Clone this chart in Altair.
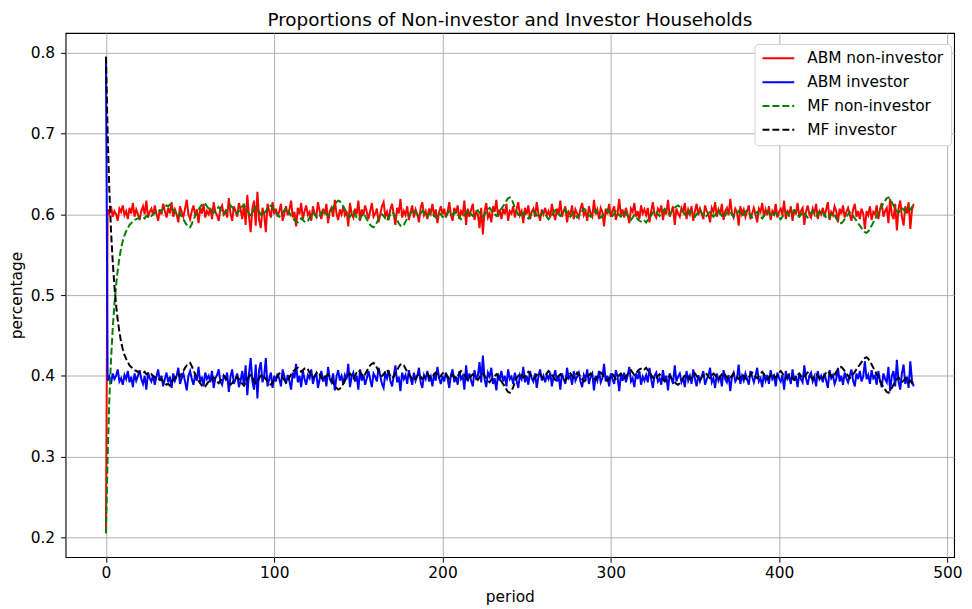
import altair as alt
import pandas as pd

# x values (period index)
periods = list(range(481))

# Values, in thousandths (0.604 -> 604)
abm_non_investor = [
    205,
    606, 601, 610, 597, 604, 600, 592, 607, 603, 611, 599, 604, 594, 608, 601, 614, 597, 606, 600, 593,
    604, 610, 600, 617, 596, 603, 607, 599, 611, 601, 592, 606, 600, 613, 604, 596, 608, 601, 615, 597,
    606, 600, 590, 610, 603, 597, 607, 618, 600, 594, 604, 611, 599, 606, 589, 608, 601, 613, 596, 604,
    600, 608, 594, 615, 603, 599, 592, 607, 611, 600, 604, 596, 620, 601, 592, 610, 604, 597, 614, 606,
    594, 613, 587, 624, 597, 578, 607, 617, 586, 628, 593, 583, 608, 600, 578, 613, 604, 596, 615, 600,
    607, 597, 604, 613, 592, 601, 610, 599, 606, 617, 596, 603, 585, 608, 600, 614, 594, 604, 611, 599,
    603, 592, 610, 601, 597, 615, 604, 594, 607, 600, 613, 589, 604, 608, 597, 618, 601, 593, 606, 600,
    610, 599, 604, 585, 614, 601, 596, 607, 600, 617, 592, 606, 599, 611, 603, 594, 604, 614, 597, 601,
    607, 590, 600, 610, 615, 597, 603, 593, 606, 613, 600, 587, 608, 601, 619, 596, 604, 599, 610, 593,
    603, 611, 596, 606, 600, 590, 608, 615, 599, 604, 594, 607, 601, 613, 597, 606, 589, 603, 610, 600,
    607, 596, 603, 615, 599, 592, 608, 601, 611, 594, 604, 600, 617, 587, 607, 597, 606, 613, 593, 603,
    600, 583, 608, 575, 604, 614, 596, 601, 590, 610, 603, 618, 597, 606, 594, 607, 600, 613, 592, 604,
    601, 610, 596, 606, 615, 599, 604, 589, 608, 600, 611, 594, 603, 607, 597, 615, 601, 592, 606, 600,
    608, 599, 604, 596, 613, 601, 593, 607, 600, 617, 597, 604, 610, 590, 603, 600, 611, 594, 606, 601,
    596, 607, 614, 599, 604, 592, 610, 601, 597, 618, 600, 606, 594, 608, 603, 585, 607, 600, 613, 597,
    604, 610, 593, 601, 619, 599, 606, 596, 608, 600, 589, 607, 603, 614, 597, 604, 594, 611, 601, 606,
    599, 608, 590, 604, 615, 600, 596, 607, 603, 611, 593, 606, 600, 618, 597, 603, 610, 587, 607, 601,
    597, 608, 603, 614, 594, 606, 600, 610, 592, 604, 613, 599, 607, 601, 594, 611, 604, 600, 590, 608,
    603, 615, 597, 606, 600, 613, 593, 604, 608, 599, 619, 601, 596, 607, 603, 586, 610, 600, 606, 597,
    604, 611, 594, 601, 608, 600, 590, 607, 603, 614, 597, 606, 599, 610, 593, 604, 600, 613, 596, 603,
    607, 599, 617, 594, 604, 601, 610, 592, 606, 600, 614, 597, 604, 608, 587, 603, 611, 600, 596, 607,
    601, 613, 594, 604, 600, 608, 597, 606, 615, 593, 603, 599, 610, 604, 590, 607, 600, 611, 596, 603,
    608, 600, 592, 606, 613, 597, 604, 594, 607, 601, 582, 604, 599, 610, 593, 603, 600, 611, 594, 606,
    614, 597, 604, 608, 589, 619, 600, 594, 613, 580, 607, 617, 597, 586, 610, 601, 615, 582, 606, 613,
]

abm_investor = [
    795,
    394, 399, 390, 403, 396, 400, 408, 393, 397, 389, 401, 396, 406, 392, 399, 386, 403, 394, 400, 407,
    396, 390, 400, 383, 404, 397, 393, 401, 389, 399, 408, 394, 400, 387, 396, 404, 392, 399, 385, 403,
    394, 400, 410, 390, 397, 403, 393, 382, 400, 406, 396, 389, 401, 394, 411, 392, 399, 387, 404, 396,
    400, 392, 406, 385, 397, 401, 408, 393, 389, 400, 396, 404, 380, 399, 408, 390, 396, 403, 386, 394,
    406, 387, 413, 376, 403, 422, 393, 383, 414, 372, 407, 417, 392, 400, 422, 387, 396, 404, 385, 400,
    393, 403, 396, 387, 408, 399, 390, 401, 394, 383, 404, 397, 415, 392, 400, 386, 406, 396, 389, 401,
    397, 408, 390, 399, 403, 385, 396, 406, 393, 400, 387, 411, 396, 392, 403, 382, 399, 407, 394, 400,
    390, 401, 396, 415, 386, 399, 404, 393, 400, 383, 408, 394, 401, 389, 397, 406, 396, 386, 403, 399,
    393, 410, 400, 390, 385, 403, 397, 407, 394, 387, 400, 413, 392, 399, 381, 404, 396, 401, 390, 407,
    397, 389, 404, 394, 400, 410, 392, 385, 401, 396, 406, 393, 399, 387, 403, 394, 411, 397, 390, 400,
    393, 404, 397, 385, 401, 408, 392, 399, 389, 406, 396, 400, 383, 413, 393, 403, 394, 387, 407, 397,
    400, 417, 392, 425, 396, 386, 404, 399, 410, 390, 397, 382, 403, 394, 406, 393, 400, 387, 408, 396,
    399, 390, 404, 394, 385, 401, 396, 411, 392, 400, 389, 406, 397, 393, 403, 385, 399, 408, 394, 400,
    392, 401, 396, 404, 387, 399, 407, 393, 400, 383, 403, 396, 390, 410, 397, 400, 389, 406, 394, 399,
    404, 393, 386, 401, 396, 408, 390, 399, 403, 382, 400, 394, 406, 392, 397, 415, 393, 400, 387, 403,
    396, 390, 407, 399, 381, 401, 394, 404, 392, 400, 411, 393, 397, 386, 403, 396, 406, 389, 399, 394,
    401, 392, 410, 396, 385, 400, 404, 393, 397, 389, 407, 394, 400, 382, 403, 397, 390, 413, 393, 399,
    403, 392, 397, 386, 406, 394, 400, 390, 408, 396, 387, 401, 393, 399, 406, 389, 396, 400, 410, 392,
    397, 385, 403, 394, 400, 387, 407, 396, 392, 401, 381, 399, 404, 393, 397, 414, 390, 400, 394, 403,
    396, 389, 406, 399, 392, 400, 410, 393, 397, 386, 403, 394, 401, 390, 407, 396, 400, 387, 404, 397,
    393, 401, 383, 406, 396, 399, 390, 408, 394, 400, 386, 403, 396, 392, 413, 397, 389, 400, 404, 393,
    399, 387, 406, 396, 400, 392, 403, 394, 385, 407, 397, 401, 390, 396, 410, 393, 400, 389, 404, 397,
    392, 400, 408, 394, 387, 403, 396, 406, 393, 399, 418, 396, 401, 390, 407, 397, 400, 389, 406, 394,
    386, 403, 396, 392, 411, 381, 400, 406, 387, 420, 393, 383, 403, 414, 390, 399, 385, 418, 394, 387,
]

mf_non_investor = [
    205,
    300, 370, 420, 458, 488, 512, 531, 546, 558, 567, 574, 579, 583, 587, 589, 591, 593, 594, 595, 596,
    596, 597, 595, 598, 597, 599, 598, 600, 602, 601, 603, 605, 604, 607, 609, 611, 610, 612, 608, 605,
    603, 600, 598, 601, 597, 594, 590, 587, 585, 584, 588, 593, 598, 602, 606, 609, 612, 614, 613, 610,
    607, 604, 605, 602, 604, 607, 609, 606, 603, 600, 602, 605, 608, 611, 609, 606, 603, 601, 604, 607,
    610, 612, 608, 604, 601, 599, 602, 606, 609, 607, 603, 600, 598, 601, 604, 607, 610, 611, 608, 605,
    603, 600, 597, 599, 602, 605, 608, 606, 602, 598, 595, 593, 591, 590, 592, 595, 593, 591, 590, 592,
    596, 599, 602, 600, 597, 595, 598, 602, 605, 603, 600, 598, 601, 605, 609, 612, 615, 617, 616, 613,
    610, 606, 602, 599, 597, 600, 603, 600, 596, 593, 595, 598, 601, 598, 594, 590, 587, 585, 584, 586,
    590, 594, 597, 600, 598, 595, 592, 596, 600, 603, 601, 597, 593, 589, 586, 585, 587, 591, 595, 598,
    601, 604, 606, 603, 600, 598, 601, 604, 602, 599, 597, 600, 603, 601, 598, 596, 599, 602, 600, 597,
    595, 598, 601, 604, 602, 599, 601, 603, 600, 597, 594, 596, 599, 602, 605, 603, 600, 598, 601, 603,
    605, 602, 599, 597, 600, 603, 606, 608, 605, 602, 600, 598, 601, 604, 607, 610, 613, 617, 620, 621,
    619, 614, 608, 603, 600, 597, 599, 602, 600, 597, 595, 598, 601, 604, 602, 599, 596, 598, 601, 603,
    600, 597, 594, 596, 599, 602, 605, 603, 600, 598, 601, 604, 606, 603, 599, 597, 600, 602, 599, 596,
    598, 601, 604, 607, 605, 602, 599, 597, 600, 603, 605, 602, 599, 596, 598, 601, 604, 606, 603, 600,
    598, 601, 604, 602, 599, 597, 600, 603, 601, 598, 595, 593, 596, 599, 597, 594, 592, 591, 590, 592,
    590, 593, 596, 599, 602, 605, 603, 600, 598, 601, 604, 607, 605, 602, 600, 603, 606, 608, 610, 611,
    609, 606, 603, 600, 598, 601, 604, 602, 599, 597, 600, 603, 605, 602, 599, 596, 598, 601, 603, 600,
    597, 599, 602, 604, 601, 598, 596, 599, 602, 605, 603, 600, 597, 599, 602, 604, 601, 598, 600, 603,
    605, 602, 599, 596, 598, 601, 603, 600, 597, 595, 598, 601, 604, 602, 599, 597, 600, 602, 599, 596,
    594, 597, 600, 603, 601, 598, 600, 603, 605, 602, 599, 597, 600, 603, 601, 598, 596, 599, 602, 604,
    601, 598, 600, 603, 605, 602, 599, 596, 594, 597, 600, 602, 599, 595, 592, 590, 589, 591, 594, 597,
    600, 603, 601, 598, 595, 592, 589, 586, 583, 580, 578, 577, 579, 582, 586, 590, 594, 598, 602, 606,
    610, 614, 617, 620, 621, 619, 615, 611, 607, 604, 602, 605, 608, 606, 603, 605, 608, 606, 609, 607,
]

mf_investor = [
    795,
    700, 630, 580, 542, 512, 488, 469, 454, 442, 433, 426, 421, 417, 413, 411, 409, 407, 406, 405, 404,
    404, 403, 405, 402, 403, 401, 402, 400, 398, 399, 397, 395, 396, 393, 391, 389, 390, 388, 392, 395,
    397, 400, 402, 399, 403, 406, 410, 413, 415, 416, 412, 407, 402, 398, 394, 391, 388, 386, 387, 390,
    393, 396, 395, 398, 396, 393, 391, 394, 397, 400, 398, 395, 392, 389, 391, 394, 397, 399, 396, 393,
    390, 388, 392, 396, 399, 401, 398, 394, 391, 393, 397, 400, 402, 399, 396, 393, 390, 389, 392, 395,
    397, 400, 403, 401, 398, 395, 392, 394, 398, 402, 405, 407, 409, 410, 408, 405, 407, 409, 410, 408,
    404, 401, 398, 400, 403, 405, 402, 398, 395, 397, 400, 402, 399, 395, 391, 388, 385, 383, 384, 387,
    390, 394, 398, 401, 403, 400, 397, 400, 404, 407, 405, 402, 399, 402, 406, 410, 413, 415, 416, 414,
    410, 406, 403, 400, 402, 405, 408, 404, 400, 397, 399, 403, 407, 411, 414, 415, 413, 409, 405, 402,
    399, 396, 394, 397, 400, 402, 399, 396, 398, 401, 403, 400, 397, 399, 402, 404, 401, 398, 400, 403,
    405, 402, 399, 396, 398, 401, 399, 397, 400, 403, 406, 404, 401, 398, 395, 397, 400, 402, 399, 397,
    395, 398, 401, 403, 400, 397, 394, 392, 395, 398, 400, 402, 399, 396, 393, 390, 387, 383, 380, 379,
    381, 386, 392, 397, 400, 403, 401, 398, 400, 403, 405, 402, 399, 396, 398, 401, 404, 402, 399, 397,
    400, 403, 406, 404, 401, 398, 395, 397, 400, 402, 399, 396, 394, 397, 401, 403, 400, 398, 401, 404,
    402, 399, 396, 393, 395, 398, 401, 403, 400, 397, 395, 398, 401, 404, 402, 399, 396, 394, 397, 400,
    402, 399, 396, 398, 401, 403, 400, 397, 399, 402, 405, 407, 404, 401, 403, 406, 408, 409, 410, 408,
    410, 407, 404, 401, 398, 395, 397, 400, 402, 399, 396, 393, 395, 398, 400, 397, 394, 392, 390, 389,
    391, 394, 397, 400, 402, 399, 396, 398, 401, 403, 400, 397, 395, 398, 401, 404, 402, 399, 397, 400,
    403, 401, 398, 396, 399, 402, 404, 401, 398, 395, 397, 400, 403, 401, 398, 396, 399, 402, 400, 397,
    395, 398, 401, 404, 402, 399, 397, 400, 403, 405, 402, 399, 396, 398, 401, 403, 400, 398, 401, 404,
    406, 403, 400, 397, 399, 402, 400, 397, 395, 398, 401, 403, 400, 397, 399, 402, 404, 401, 398, 396,
    399, 402, 400, 397, 395, 398, 401, 404, 406, 403, 400, 398, 401, 405, 408, 410, 411, 409, 406, 403,
    400, 397, 399, 402, 405, 408, 411, 414, 417, 420, 422, 423, 421, 418, 414, 410, 406, 402, 398, 394,
    390, 386, 383, 380, 379, 381, 385, 389, 393, 396, 398, 395, 392, 394, 397, 395, 392, 394, 391, 393,
]

series_names = ["ABM non-investor", "ABM investor", "MF non-investor", "MF investor"]
series_colors = ["#ff0000", "#0000ff", "#008000", "#000000"]
series_dashes = [[1, 0], [1, 0], [7, 3], [7, 3]]
x_ticks = [0, 100, 200, 300, 400, 500]
y_ticks = [0.2, 0.3, 0.4, 0.5, 0.6, 0.7, 0.8]

rows = []
for name, vals in zip(series_names, [abm_non_investor, abm_investor, mf_non_investor, mf_investor]):
    for p, v in zip(periods, vals):
        rows.append({"period": p, "value": v / 1000.0, "series": name})
df = pd.DataFrame(rows)

FONT = "DejaVu Sans"
FS = 15.5

legend = alt.Legend(
    title=None,
    orient="none",
    legendX=694,
    legendY=11,
    symbolType="stroke",
    symbolSize=1024,
    symbolStrokeWidth=2,
    labelFontSize=FS,
    labelFont=FONT,
    labelColor="black",
    labelOffset=12,
    clipHeight=15,
    rowPadding=8,
    padding=7,
    fillColor="white",
    strokeColor="#d0d0d0",
    cornerRadius=4,
)

chart = (
    alt.Chart(df)
    .mark_line(strokeWidth=2)
    .encode(
        x=alt.X(
            "period:Q",
            scale=alt.Scale(domain=[-24, 504], nice=False, zero=False),
            axis=alt.Axis(values=x_ticks, title="period", format="d"),
        ),
        y=alt.Y(
            "value:Q",
            scale=alt.Scale(domain=[0.1755, 0.8245], nice=False, zero=False),
            axis=alt.Axis(values=y_ticks, title="percentage", format=".1f"),
        ),
        color=alt.Color(
            "series:N",
            scale=alt.Scale(domain=series_names, range=series_colors),
            legend=legend,
        ),
        strokeDash=alt.StrokeDash(
            "series:N",
            scale=alt.Scale(domain=series_names, range=series_dashes),
            legend=legend,
        ),
    )
    .properties(
        width=895,
        height=528,
        title=alt.TitleParams(
            "Proportions of Non-investor and Investor Households",
            font=FONT,
            fontSize=18.5,
            fontWeight="normal",
            color="black",
            anchor="middle",
            offset=4,
        ),
        autosize=alt.AutoSizeParams(type="none"),
        padding={"left": 58, "top": 23, "right": 10, "bottom": 48},
    )
    .configure(background="white")
    .configure_view(stroke="black", strokeWidth=1.1)
    .configure_axis(
        domain=False,
        grid=True,
        gridColor="#b0b0b0",
        gridWidth=1,
        tickColor="black",
        tickSize=5,
        tickWidth=1,
        labelFont=FONT,
        labelFontSize=FS,
        labelColor="black",
        titleFont=FONT,
        titleFontSize=FS,
        titleFontWeight="normal",
        titleColor="black",
    )
    .configure_axisX(labelPadding=3, titlePadding=9)
    .configure_axisY(labelPadding=6, titlePadding=6)
)

chart.save("out.html", embed_options={"renderer": "svg", "actions": False})
